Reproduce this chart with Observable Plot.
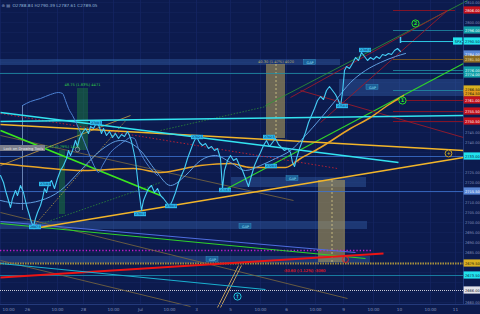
<!DOCTYPE html>
<html><head><meta charset="utf-8">
<script src="https://cdn.jsdelivr.net/npm/d3@7"></script>
<script src="https://cdn.jsdelivr.net/npm/@observablehq/plot@0.6"></script>
<style>
html,body{margin:0;padding:0;background:#0c1b4e;overflow:hidden}
#chart{width:480px;height:314px}
svg{display:block}
</style></head><body><div id="chart"></div>
<script>
// ---------- DATA (x = bar index, y = price) ----------
const header = "O2788.84 H2790.39 L2787.61 C2789.05";
const xTickBars   = [0, 13.5, 28.5, 41.5, 56.5, 70, 84.5, 98, 115, 130, 143, 157.5, 171.5, 186.5, 199.5, 215, 227.5];
const xTickLabels = ["10:00","26","10:00","28","10:00","Jul","10:00","3","5","10:00","6","10:00","9","10:00","10","10:00","11"];
const yTicks = d3.range(2660, 2811, 5);

const priceSeries = [[0,2723.5],[1.5,2720],[2.5,2716],[4,2711],[5,2707.5],[6,2712],[7.5,2716],[8.5,2713.5],[10,2718.5],[11.5,2715],[13,2708.5],[14.5,2703.5],[15.5,2700],[16.5,2698],[17.5,2702],[18.5,2705],[20,2708.5],[21,2712],[22,2717],[23,2715],[24,2719],[25.5,2721],[27,2717],[28.5,2722],[30,2726],[31.5,2728.5],[33,2732],[34,2736],[35,2733.5],[36,2736],[37.5,2741],[38.5,2738],[39.5,2742],[41,2745],[42.5,2747],[44,2744.5],[45,2748],[46.5,2747],[47.5,2749],[48.5,2750],[49.5,2747.5],[50.5,2744.5],[51.5,2747],[53,2743.5],[54.5,2745.5],[56,2742.5],[57.5,2744.5],[59,2742],[60.5,2744],[62,2743],[63.5,2745.5],[64.5,2743.5],[65.5,2740.5],[66.5,2736],[67.5,2731],[68.5,2722],[69.5,2713.5],[70.5,2706],[71.5,2711],[72.5,2713.5],[74,2717],[75.5,2718.5],[77,2715],[78.5,2717],[80,2713.5],[81.5,2712],[83,2710],[84.5,2708],[86,2711],[87.5,2715],[89,2720],[90.5,2723.5],[92,2727],[93.5,2732],[95,2736],[96.5,2740],[98,2743],[99.5,2740],[101,2738.5],[102.5,2739.5],[104,2737],[105.5,2738],[107,2736],[108.5,2737],[110,2732],[111,2717],[112,2726],[113.5,2731],[115,2733.5],[116.5,2731],[118,2732],[119.5,2728.5],[121,2726],[122.5,2722],[124,2718],[125.5,2723.5],[127,2728.5],[128.5,2732],[130,2735],[131.5,2738.5],[133,2741],[134.5,2738],[136,2740],[137.5,2742],[139,2739],[140.5,2737.5],[142,2736],[143.5,2737],[145,2735],[146,2730],[147,2728],[148,2732],[149.5,2737],[151,2741],[152.5,2745],[154,2750],[155.5,2753.5],[157,2757],[158.5,2761],[160,2763],[161.5,2761.5],[163,2766],[164.5,2768],[166,2766],[167.5,2764],[169,2761],[170,2758],[171,2765],[172,2776],[173,2778],[174.5,2777],[176,2779.5],[177.5,2782.5],[179,2781],[180.5,2785],[182,2783],[183.5,2781],[185,2782.5],[186.5,2781.5],[188,2783],[189.5,2782],[191,2784],[192.5,2783.5],[194,2784.5],[195.5,2784],[197,2786],[198.5,2787],[200,2785.5]];
const lastCandle = [[200, 2789.5, 2792.5]];

const maSeries = [[0,2711],[10,2709.5],[20,2711],[30,2716],[40,2726],[50,2736],[60,2741],[70,2736],[77.5,2726],[85,2718.5],[92.5,2723.5],[100,2731],[107.5,2733.5],[115,2730],[122.5,2726],[130,2728.5],[137.5,2732],[145,2736],[152.5,2743.5],[160,2752],[167.5,2761],[175,2770],[182.5,2776],[190,2780],[197.5,2783],[202.5,2784.5]];
const upperBand = [[11,2758.5],[15,2760.5],[20,2762],[25,2764],[29,2765],[31,2764.5],[32.5,2761],[34,2757],[36,2753.5],[40,2745],[44,2735],[47.5,2727],[49,2725],[51,2728.5],[55,2735],[59,2738.5],[62.5,2741],[65,2742.5],[67,2742],[69,2737],[71.5,2732],[75,2727],[78.5,2723.5]];
const goldMA = [[0,2729.5],[20,2727.5],[41.5,2726],[66.5,2727],[80,2725],[100,2728.5],[115,2729.5],[125,2727.5],[142.5,2727.5],[150,2732],[160,2737.5],[175,2747],[185,2752.5],[193.5,2758.5],[201.5,2763.5]];
const bandVLine = [[11, 2758.5, 2706]];

// trend segments [bar1, price1, bar2, price2]
const cyanTrend   = [[0,2750.5,231.5,2753.5],[0,2755,199,2730]];
const cyanLow     = [[0,2679.5,132.5,2666.5]];
const goldTrend   = [[0,2749,231.5,2736],[16.5,2697,231.5,2732.5]];
const goldThin    = [[0,2728.5,65,2753.5]];
const goldFan     = [[16.5,2698,63.5,2752]];
const greenFan    = [[16.5,2698,80,2720],[80,2746,135,2758.5]];
const greenBright = [[0,2746,80,2713.5]];
const greenMid    = [[0,2699.5,182.5,2682],[111.5,2716,231.5,2779.5]];
const greenDim    = [[132.5,2758.5,233.5,2811]];
const blueTrend   = [[0,2700.5,177.5,2685]];
const redThick    = [[0,2672.5,191.5,2684.5]];
const darkRed     = [[145,2762.5,223.5,2806],[160,2750,223.5,2806],[150,2766,231.5,2742.5]];
const redDotted   = [[0,2754.5,168.5,2727]];
const brownThin   = [[0,2681,95,2658],[0,2705,173.5,2662],[0,2743.5,146.5,2711]];
const tanRising   = [[108.5,2657.5,119,2678.5],[110,2657.5,120.5,2678.5]];

// horizontal levels [price, bar1, bar2]
const tealLevels   = [[2774.5,0,231.5],[2796,196.5,231.5],[2776,196.5,231.5],[2766,196.5,231.5]];
const blueLevels   = [[2733,0,231.5],[2715.5,0,231.5]];
const redLevels    = [[2806,196.5,227.5],[2761,196.5,231.5],[2755.5,196.5,231.5],[2750.5,196.5,231.5]];
const brownLevels  = [[2781.5,196.5,231.5]];
const spxLevel     = [[2790.5,200,231.5]];
const magentaLevel = [[2686,0,186]];
const yellowLevel  = [[2679.5,0,231.5]];
const cyanLevel    = [[2673.5,0,231.5]];
const whiteLevel   = [[2666,0,231.5]];

// shaded zones [bar1, bar2, price1, price2]
const gapBands  = [[0,170,2778.5,2781.5],[169.5,231.5,2763,2771.5],[115.5,183,2717.5,2722.5],[0,183.5,2696.5,2700.5],[0,185,2679.5,2683]];
const gapLabels = [[154.75,2780],[186,2767.5],[146,2722],[122.5,2698],[106,2681.5]];
const tanZones  = [[133,142.5,2742,2779],[159,172.5,2680,2721]];
const tanMid    = [[137.75,2742,2779],[165.75,2680,2721]];
const greenZones= [[38.5,44,2736,2767],[29.5,32.5,2704,2736]];
const measureTexts = [[137.75,2780.5,"40.30 (1.47%) 4020"],[41,2769,"48.75 (1.83%) 4471"],[30.5,2737.8,"21.32 (0.79%) 1445"]];
const redMeasure = [[152,2676,"-30.60 (-1.12%) -3060"]];

// price tags on chart [bar, price]
const priceTags = [[48,2749.5],[22.5,2719],[17.5,2697.5],[70,2704],[85.5,2708],[98.5,2742.5],[112.5,2716],[134.5,2742.5],[135.5,2728],[182.5,2786],[171,2758]];

// circle markers [bar, price, glyph]
const greenMarks = [[207.5,2799.5,"2"],[201,2761,"1"]];
const goldMarks  = [[224,2734.5,"+"]];
const cyanMarks  = [[118.5,2663,"†"]];
const redMarks   = [[172.5,2681.5,""]];
const grayMarks  = [[38.5,2736.5,""]];

// right-axis price boxes [price, kind]
const axisBoxes = [[2806,"red"],[2796,"teal"],[2790.5,"cyan"],[2784,"blue"],[2781.5,"olive"],[2776,"teal"],[2774,"teal"],[2766.5,"yellow"],[2764.5,"gold"],[2761,"red"],[2755.5,"red"],[2750.5,"red"],[2733,"cyan"],[2715.5,"blue"],[2679.5,"yellow"],[2673.5,"cyan"],[2666,"white"]];

// ---------- STYLE ----------
const BG = "#0c1b4e";
const AXIS_X = 231.5, AXIS_END = 240;
const boxFill = {red:"#c3121c",teal:"#139fa8",cyan:"#22e3ee",blue:"#5a88d8",olive:"#8a6a22",yellow:"#d9b021",gold:"#e09a1c",white:"#e3e3ea"};
const boxText = {red:"#ffffff",teal:"#e6ffff",cyan:"#062040",blue:"#ffffff",olive:"#f0e0b0",yellow:"#1a1a10",gold:"#1a1a10",white:"#1a1a30"};
const freeTicks = yTicks.filter(t => axisBoxes.every(b => Math.abs(b[0] - t) > 3.6));

const seg = (arr, o) => Plot.link(arr, {x1: d=>d[0], y1: d=>d[1], x2: d=>d[2], y2: d=>d[3], ...o});
const lvl = (arr, o) => Plot.ruleY(arr, {y: d=>d[0], x1: d=>d[1], x2: d=>d[2], ...o});
const ring = (arr, color, r) => [
  Plot.dot(arr, {x: d=>d[0], y: d=>d[1], r, stroke: color, fill: BG, strokeWidth: 1}),
  Plot.text(arr, {x: d=>d[0], y: d=>d[1], text: d=>d[2], fill: color, fontSize: 5, fontWeight: "bold"})
];

const chart = Plot.plot({
  width: 480, height: 314,
  marginTop: 0, marginRight: 0, marginBottom: 10, marginLeft: 0,
  x: {domain: [0, 240], axis: null},
  y: {domain: [2659, 2811], axis: null},
  style: {background: BG, fontFamily: "DejaVu Sans", overflow: "hidden"},
  marks: [
    // grid
    Plot.ruleX(xTickBars, {x: d=>d, stroke: "#17296a", strokeWidth: 0.6}),
    Plot.ruleY(yTicks, {y: d=>d, x1: 0, x2: AXIS_X, stroke: "#14265f", strokeWidth: 0.5}),
    // zones
    Plot.rect(gapBands, {x1: d=>d[0], x2: d=>d[1], y1: d=>d[2], y2: d=>d[3], fill: "#3a6ab4", fillOpacity: 0.38}),
    Plot.rect(tanZones, {x1: d=>d[0], x2: d=>d[1], y1: d=>d[2], y2: d=>d[3], fill: "#a8965a", fillOpacity: 0.62}),
    Plot.ruleX(tanMid, {x: d=>d[0], y1: d=>d[1], y2: d=>d[2], stroke: "#e8d890", strokeWidth: 0.7, strokeDasharray: "2,2"}),
    Plot.rect(greenZones, {x1: d=>d[0], x2: d=>d[1], y1: d=>d[2], y2: d=>d[3], fill: "#1f8a3c", fillOpacity: 0.45}),
    Plot.ruleX(bandVLine, {x: d=>d[0], y1: d=>d[1], y2: d=>d[2], stroke: "#7f9ccc", strokeWidth: 0.8}),
    // horizontal levels
    lvl(tealLevels, {stroke: "#1f8fa6", strokeWidth: 0.8}),
    lvl(blueLevels, {stroke: "#3d74d0", strokeWidth: 0.8}),
    lvl(redLevels, {stroke: "#8e1424", strokeWidth: 0.9}),
    lvl(brownLevels, {stroke: "#7a5a22", strokeWidth: 0.9}),
    lvl(magentaLevel, {stroke: "#c51ccf", strokeWidth: 1.3, strokeDasharray: "1.3,2"}),
    lvl(yellowLevel, {stroke: "#a8913a", strokeWidth: 2, strokeDasharray: "1.5,1"}),
    lvl(cyanLevel, {stroke: "#1c93b4", strokeWidth: 0.8}),
    lvl(whiteLevel, {stroke: "#c9cbd8", strokeWidth: 1.2, strokeDasharray: "1,1"}),
    // trend lines
    seg(brownThin, {stroke: "#7d6a3e", strokeWidth: 0.8}),
    seg(tanRising, {stroke: "#b8975a", strokeWidth: 1}),
    seg(blueTrend, {stroke: "#4f6ee0", strokeWidth: 1.2}),
    seg(greenMid, {stroke: "#2fd22a", strokeWidth: 1.2}),
    seg(greenDim, {stroke: "#2f9a34", strokeWidth: 0.8}),
    seg(greenFan, {stroke: "#2f9a34", strokeWidth: 0.7, strokeDasharray: "1.5,1.5"}),
    seg(goldFan, {stroke: "#d8b040", strokeWidth: 0.7, strokeDasharray: "1.5,1.5"}),
    seg(goldThin, {stroke: "#c9a040", strokeWidth: 0.8}),
    seg(darkRed, {stroke: "#9a1a2a", strokeWidth: 0.9}),
    seg(redDotted, {stroke: "#b32034", strokeWidth: 1, strokeDasharray: "1.5,2"}),
    seg(redThick, {stroke: "#ec1414", strokeWidth: 1.8}),
    seg(greenBright, {stroke: "#3be61e", strokeWidth: 1.8}),
    seg(cyanLow, {stroke: "#1ab0cf", strokeWidth: 1.1}),
    seg(goldTrend, {stroke: "#f2b52a", strokeWidth: 1.6}),
    seg(cyanTrend, {stroke: "#33e4f0", strokeWidth: 1.7}),
    lvl(spxLevel, {stroke: "#2fd8ee", strokeWidth: 0.9}),
    // moving averages and price
    Plot.line(goldMA, {x: d=>d[0], y: d=>d[1], stroke: "#e9a526", strokeWidth: 1.5, curve: "monotone-x"}),
    Plot.line(upperBand, {x: d=>d[0], y: d=>d[1], stroke: "#4d82d4", strokeWidth: 1, curve: "monotone-x"}),
    Plot.line(maSeries, {x: d=>d[0], y: d=>d[1], stroke: "#5f9de0", strokeWidth: 1, curve: "monotone-x"}),
    Plot.line(priceSeries, {x: d=>d[0], y: d=>d[1], stroke: "#45cdf5", strokeWidth: 1.1}),
    Plot.ruleX(lastCandle, {x: d=>d[0], y1: d=>d[1], y2: d=>d[2], stroke: "#45cdf5", strokeWidth: 1.5}),
    // measure texts
    Plot.text(measureTexts.slice(0,1), {x: d=>d[0], y: d=>d[1], text: d=>d[2], fill: "#b8a868", fontSize: 3.6}),
    Plot.text(measureTexts.slice(1), {x: d=>d[0], y: d=>d[1], text: d=>d[2], fill: "#33d04a", fontSize: 3.6}),
    Plot.text(redMeasure, {x: d=>d[0], y: d=>d[1], text: d=>d[2], fill: "#e02030", fontSize: 3.8, stroke: "#b01020", strokeWidth: 0.2}),
    // GAP labels
    Plot.rect(gapLabels, {x1: d=>d[0]-3, x2: d=>d[0]+3, y1: d=>d[1]-1.2, y2: d=>d[1]+1.2, fill: "#1a5f98", stroke: "#3aa0d0", strokeWidth: 0.4}),
    Plot.text(gapLabels, {x: d=>d[0], y: d=>d[1], text: () => "GAP", fill: "#9fe6ff", fontSize: 3.4}),
    // price tags
    Plot.rect(priceTags, {x1: d=>d[0]-3, x2: d=>d[0]+3, y1: d=>d[1]-1.1, y2: d=>d[1]+1.1, fill: "#2cb8ec"}),
    Plot.text(priceTags, {x: d=>d[0], y: d=>d[1], text: d=>d[1].toFixed(1), fill: "#0a2050", fontSize: 3}),
    // lock box
    Plot.rect([[0,22.5,2735.5,2738.5]], {x1: d=>d[0], x2: d=>d[1], y1: d=>d[2], y2: d=>d[3], fill: "#7d7f8c"}),
    Plot.text(["Lock on Drawing Tools"], {x: 1.5, y: 2737, text: d=>d, textAnchor: "start", fill: "#f0f0f0", fontSize: 3.6}),
    // markers
    ...ring(greenMarks, "#28e028", 3.6),
    ...ring(goldMarks, "#c8a024", 3.4),
    ...ring(cyanMarks, "#22c8e0", 3.6),
    Plot.dot(redMarks, {x: d=>d[0], y: d=>d[1], r: 3, stroke: "#e02020", strokeWidth: 1}),
    Plot.dot(grayMarks, {x: d=>d[0], y: d=>d[1], r: 2.2, stroke: "#9aa0b0", strokeWidth: 0.8}),
    // right axis
    Plot.ruleX([AXIS_X], {stroke: "#2b4287", strokeWidth: 0.8}),
    Plot.ruleY([2659], {stroke: "#2b4287", strokeWidth: 0.8}),
    Plot.text(freeTicks, {y: d=>d, frameAnchor: "right", dx: -15.5, textAnchor: "start", text: d=>d.toFixed(2), fill: "#8393bd", fontSize: 3.6}),
    Plot.rect(axisBoxes, {x1: AXIS_X + 0.3, x2: AXIS_END, y1: d=>d[0]-1.8, y2: d=>d[0]+1.8, fill: d=>boxFill[d[1]]}),
    Plot.text(axisBoxes, {y: d=>d[0], frameAnchor: "right", dx: -15.5, textAnchor: "start", text: d=>d[0].toFixed(2), fill: d=>boxText[d[1]], fontSize: 3.6}),
    Plot.rect(spxLevel, {x1: 226.5, x2: 231.2, y1: d=>d[0]-1.8, y2: d=>d[0]+1.8, fill: "#22e3ee"}),
    Plot.text(spxLevel, {x: 228.85, y: d=>d[0], text: () => "SPX", fill: "#062040", fontSize: 3.6}),
    // bottom axis
    Plot.text(xTickBars.slice(1), {x: d=>d, frameAnchor: "bottom", dy: 6, text: (d,i) => xTickLabels[i + 1], fill: "#8393bd", fontSize: 4.2}),
    Plot.text(xTickBars.slice(0, 1), {x: d=>d, frameAnchor: "bottom", dy: 6, dx: 2, textAnchor: "start", text: (d,i) => xTickLabels[i], fill: "#8393bd", fontSize: 4.2}),
    // header
    Plot.text([header], {frameAnchor: "top-left", dx: 12, dy: 4, text: d=>d, fill: "#8fb4d8", fontSize: 4.2}),
    Plot.text(["⊕ ▤"], {frameAnchor: "top-left", dx: 1, dy: 4, text: d=>d, fill: "#8fa0c8", fontSize: 4.2})
  ]
});
document.getElementById("chart").append(chart);
</script></body></html>
